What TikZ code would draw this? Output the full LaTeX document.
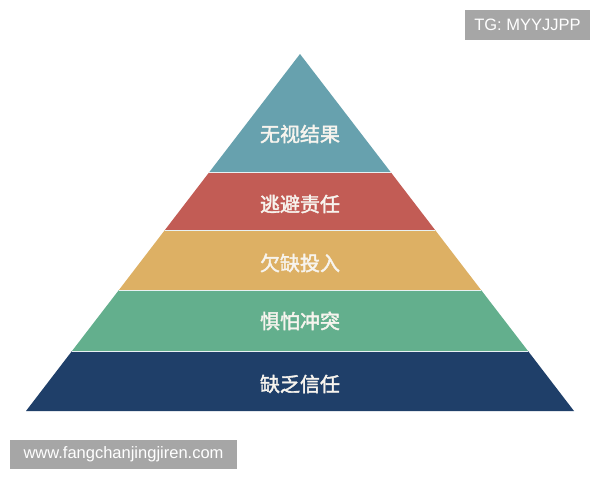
\documentclass[tikz,border=0pt]{standalone}
\usepackage{fontspec}
\setmainfont{Liberation Sans}
\newfontfamily\cjk[BoldFont={Noto Sans CJK SC},BoldFeatures={FakeBold=2}]{Noto Sans CJK SC}
\definecolor{lteal}{HTML}{67A1AE}
\definecolor{lred}{HTML}{C25C55}
\definecolor{lyellow}{HTML}{DDB064}
\definecolor{lgreen}{HTML}{63AF8D}
\definecolor{lnavy}{HTML}{1F3F69}
\definecolor{wmgray}{HTML}{A6A6A6}
\definecolor{txtw}{HTML}{F7F4EE}
\begin{document}
\begin{tikzpicture}[x=1pt,y=-1pt,
  layertext/.style={text=txtw,font=\cjk\fontsize{20}{20}\selectfont\bfseries,inner sep=0pt},
  sep/.style={draw=white!85!lteal,line width=0.9pt},
  wmbox/.style={fill=wmgray,text=white,font=\fontsize{16.5}{16.5}\selectfont,inner sep=0pt}]
\useasboundingbox (0,0) rectangle (600,480);
\fill[white] (0,0) rectangle (600,480);
% layers
\fill[lteal]   (300,54) -- (390.6,172) -- (209.4,172) -- cycle;
\fill[lred]    (209.4,172) -- (390.6,172) -- (435.1,230) -- (164.9,230) -- cycle;
\fill[lyellow] (164.9,230) -- (435.1,230) -- (481.1,290) -- (118.9,290) -- cycle;
\fill[lgreen]  (118.9,290) -- (481.1,290) -- (528,351) -- (72,351) -- cycle;
\fill[lnavy]   (72,351) -- (528,351) -- (574,411) -- (26,411) -- cycle;
% separators
\draw[sep] (209.4,172) -- (390.6,172);
\draw[sep] (164.9,230) -- (435.1,230);
\draw[sep] (118.9,290) -- (481.1,290);
\draw[sep] (72,351) -- (528,351);
% labels
\node[layertext] (l1) at (300,134) {无视结果};
\node[layertext] (l2) at (300,204) {逃避责任};
\node[layertext] (l3) at (300,263) {欠缺投入};
\node[layertext] (l4) at (300,321) {惧怕冲突};
\node[layertext] (l5) at (300,384) {缺乏信任};
% watermarks
\fill[wmgray] (465,10) rectangle (590,40);
\node[wmbox,fill=none] (tg) at (527.5,25) {TG: MYYJJPP};
\fill[wmgray] (10,440) rectangle (237,469);
\node[wmbox,fill=none] (www) at (123.5,454.5) {www.fangchanjingjiren.com};
\end{tikzpicture}
\end{document}
